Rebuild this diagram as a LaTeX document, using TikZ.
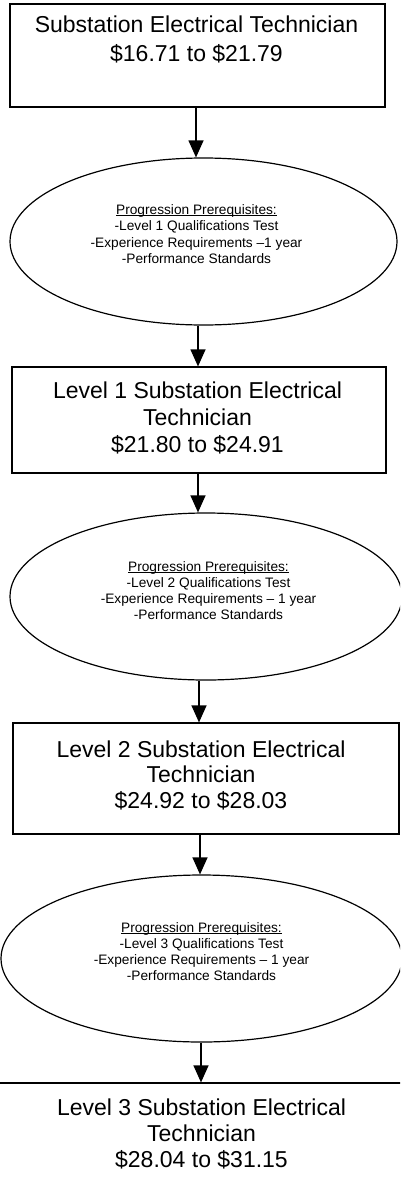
\documentclass[tikz,border=0pt]{standalone}
\usepackage{fontspec}
\setmainfont{Liberation Sans}
\usetikzlibrary{shapes.geometric,arrows.meta}
\newcommand\myul[1]{\setbox0\hbox{#1}\rlap{\rule[-1.6pt]{\wd0}{0.7pt}}\box0}
\begin{document}
\begin{tikzpicture}[x=1pt,y=-1pt,
  box/.style={draw, line width=1.2pt, rectangle, inner sep=0pt},
  oval/.style={draw, line width=1.2pt, ellipse, inner sep=0pt},
  big/.style={align=center, inner sep=0pt, font=\fontsize{23}{27}\selectfont},
  small/.style={align=center, inner sep=0pt, font=\fontsize{13.7}{16}\selectfont},
  arr/.style={line width=1.2pt, -{Triangle[width=15pt,length=17pt]}}]
\useasboundingbox (0,0) rectangle (400,1186);
\clip (0,0) rectangle (400,1186);

% boxes
\node[box, minimum width=375pt, minimum height=103pt] (b1) at (197.5,55.5) {};
\node[box, minimum width=374pt, minimum height=106pt] (b2) at (199,420) {};
\node[box, minimum width=386pt, minimum height=111pt] (b3) at (206,778.5) {};
\node[box, minimum width=420pt, minimum height=140pt] (b4) at (200,1153) {};

% ellipses
\node[oval, minimum width=387pt, minimum height=167pt] (e1) at (203.5,241.5) {};
\node[oval, minimum width=392pt, minimum height=167pt] (e2) at (206,596.5) {};
\node[oval, minimum width=401pt, minimum height=167pt] (e3) at (201.5,958.5) {};

% box texts
\node[big, font=\fontsize{23}{29}\selectfont] (t1) at (196.5,39) {Substation Electrical Technician\\\$16.71 to \$21.79};
\node[big] (t2) at (197.5,417.5) {Level 1 Substation Electrical\\Technician\\\$21.80 to \$24.91};
\node[big, font=\fontsize{23}{25.5}\selectfont] (t3) at (201,775) {Level 2 Substation Electrical\\Technician\\\$24.92 to \$28.03};
\node[big, font=\fontsize{23}{26}\selectfont] (t4) at (201.5,1133.5) {Level 3 Substation Electrical\\Technician\\\$28.04 to \$31.15};

% ellipse texts
\node[small, font=\fontsize{13.7}{16.5}\selectfont] (s1) at (196.5,234) {\myul{Progression Prerequisites:}\\-Level 1 Qualifications Test\\-Experience Requirements –1 year\\-Performance Standards};
\node[small] (s2) at (208.5,590.5) {\myul{Progression Prerequisites:}\\-Level 2 Qualifications Test\\-Experience Requirements – 1 year\\-Performance Standards};
\node[small] (s3) at (201.5,951.5) {\myul{Progression Prerequisites:}\\-Level 3 Qualifications Test\\-Experience Requirements – 1 year\\-Performance Standards};

% arrows
\draw[arr] ([xshift=-1.5pt]b1.south) -- ([xshift=-1.5pt]b1.south |- e1.north);
\draw[arr] ([xshift=-5.5pt]e1.south) -- ([xshift=-5.5pt]e1.south |- b2.north);
\draw[arr] ([xshift=-1pt]b2.south) -- ([xshift=-1pt]b2.south |- e2.north);
\draw[arr] ([xshift=-7pt]e2.south) -- ([xshift=-7pt]e2.south |- b3.north);
\draw[arr] ([xshift=-6pt]b3.south) -- ([xshift=-6pt]b3.south |- e3.north);
\draw[arr] ([xshift=-0.5pt]e3.south) -- ([xshift=-0.5pt]e3.south |- b4.north);
\end{tikzpicture}
\end{document}
